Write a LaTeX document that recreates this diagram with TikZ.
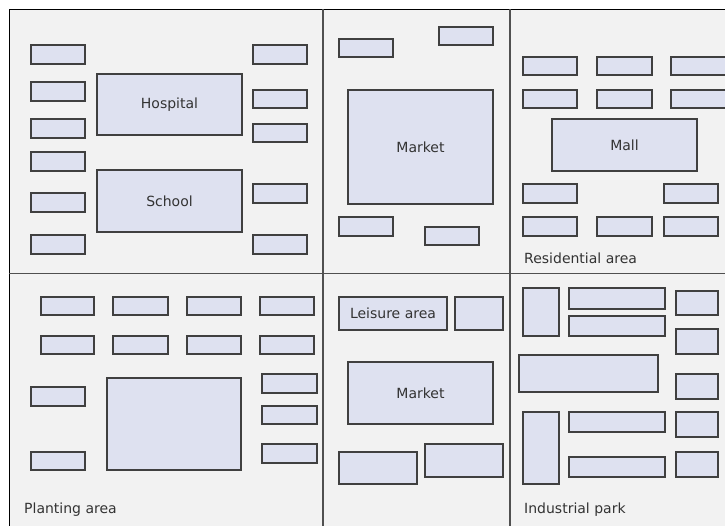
\documentclass[tikz,border=0pt]{standalone}
\usepackage{fontspec}
\setmainfont{DejaVu Sans}
\definecolor{bgc}{HTML}{F2F2F2}
\definecolor{boxc}{HTML}{DEE1F0}
\definecolor{edgec}{HTML}{404040}
\definecolor{txtc}{HTML}{333333}
\definecolor{divc}{HTML}{505050}
\tikzset{
  bld/.style={draw=edgec, fill=boxc, line width=1.1pt, inner sep=0pt, outer sep=0pt, text=txtc, font=\fontsize{14}{16}\selectfont},
  lbl/.style={inner sep=0pt, anchor=base west, text=txtc, font=\fontsize{14}{16}\selectfont},
  divider/.style={draw=divc, line width=1.4pt}
}
\newcommand\bx[6]{\node[bld,anchor=north west,minimum width={(#4-#2)*1pt},minimum height={(#5-#3)*1pt}] (#1) at (#2,#3) {#6};}
\begin{document}
\begin{tikzpicture}[x=1pt,y=-1pt]
\useasboundingbox (0,0) rectangle (725,525);
\fill[white] (0,0) rectangle (725,525);
\fill[bgc] (9,9) rectangle (740,540);
\draw[black, line width=1pt] (9,540) -- (9,9) -- (740,9);
% dividers
\coordinate (v1t) at (323,9); \coordinate (v1b) at (323,540);
\coordinate (v2t) at (510,9); \coordinate (v2b) at (510,540);
\coordinate (hl) at (9,273.5); \coordinate (hr) at (740,273.5);
\draw[divider] (v1t) -- (v1b);
\draw[divider] (v2t) -- (v2b);
\draw[divider] (hl) -- (hr);
% top-left quadrant
\bx{tl1}{31}{45}{85}{64}{}
\bx{tl2}{31}{82}{85}{101}{}
\bx{tl3}{31}{119}{85}{138}{}
\bx{tl4}{31}{152}{85}{171}{}
\bx{tl5}{31}{193}{85}{212}{}
\bx{tl6}{31}{235}{85}{254}{}
\bx{hosp}{97}{74}{242}{135}{Hospital}
\bx{school}{97}{170}{242}{232}{School}
\bx{tr1}{253}{45}{307}{64}{}
\bx{tr2}{253}{90}{307}{108}{}
\bx{tr3}{253}{124}{307}{142}{}
\bx{tr4}{253}{184}{307}{203}{}
\bx{tr5}{253}{235}{307}{254}{}
% top-middle quadrant
\bx{tm1}{339}{39}{393}{57}{}
\bx{tm2}{439}{27}{493}{45}{}
\bx{market1}{348}{90}{493}{204}{Market}
\bx{tm3}{339}{217}{393}{236}{}
\bx{tm4}{425}{227}{479}{245}{}
% top-right quadrant
\bx{r11}{523}{57}{577}{75}{}
\bx{r12}{597}{57}{652}{75}{}
\bx{r13}{671}{57}{726}{75}{}
\bx{r21}{523}{90}{577}{108}{}
\bx{r22}{597}{90}{652}{108}{}
\bx{r23}{671}{90}{726}{108}{}
\bx{mall}{552}{119}{697}{171}{Mall}
\bx{r31}{523}{184}{577}{203}{}
\bx{r33}{664}{184}{718}{203}{}
\bx{r41}{523}{217}{577}{236}{}
\bx{r42}{597}{217}{652}{236}{}
\bx{r43}{664}{217}{718}{236}{}
\node[lbl] (res) at (524,263) {Residential area};
% bottom-left quadrant
\bx{p11}{41}{297}{94}{315}{}
\bx{p12}{113}{297}{168}{315}{}
\bx{p13}{187}{297}{241}{315}{}
\bx{p14}{260}{297}{314}{315}{}
\bx{p21}{41}{336}{94}{354}{}
\bx{p22}{113}{336}{168}{354}{}
\bx{p23}{187}{336}{241}{354}{}
\bx{p24}{260}{336}{314}{354}{}
\bx{pl1}{31}{387}{85}{406}{}
\bx{pl2}{31}{452}{85}{470}{}
\bx{pbig}{107}{378}{241}{470}{}
\bx{pr1}{262}{374}{317}{393}{}
\bx{pr2}{262}{406}{317}{424}{}
\bx{pr3}{262}{444}{317}{463}{}
\node[lbl] (plant) at (24,513) {Planting area};
% bottom-middle quadrant
\bx{leis}{339}{297}{447}{330}{Leisure area}
\bx{bm1}{455}{297}{503}{330}{}
\bx{market2}{348}{362}{493}{424}{Market}
\bx{bm2}{339}{452}{417}{484}{}
\bx{bm3}{425}{444}{503}{477}{}
% bottom-right quadrant
\bx{i1}{523}{288}{559}{336}{}
\bx{i2}{569}{288}{665}{309}{}
\bx{i3}{569}{316}{665}{336}{}
\bx{i4}{519}{355}{658}{392}{}
\bx{i5}{523}{412}{559}{484}{}
\bx{i6}{569}{412}{665}{432}{}
\bx{i7}{569}{457}{665}{477}{}
\bx{s1}{676}{291}{718}{315}{}
\bx{s2}{676}{329}{718}{354}{}
\bx{s3}{676}{374}{718}{399}{}
\bx{s4}{676}{412}{718}{437}{}
\bx{s5}{676}{452}{718}{477}{}
\node[lbl] (ind) at (524,513) {Industrial park};
\end{tikzpicture}
\end{document}
